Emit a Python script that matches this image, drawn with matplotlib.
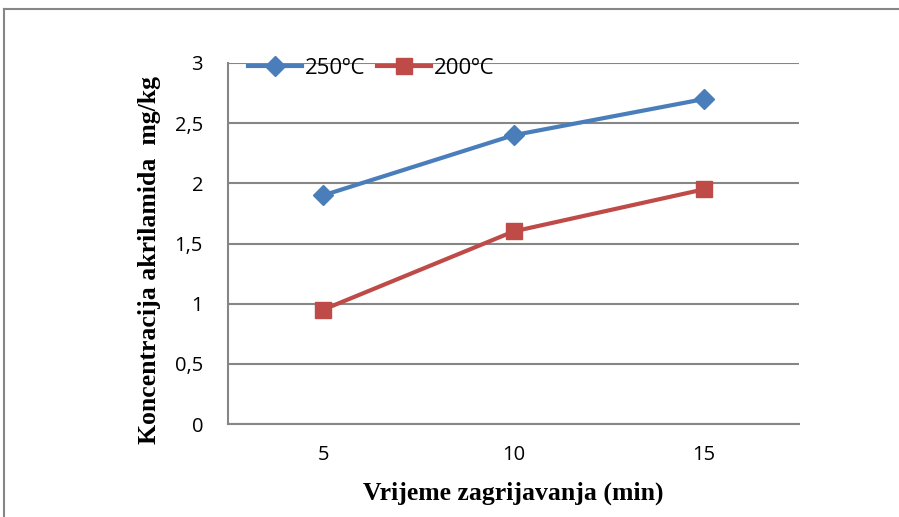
import matplotlib.pyplot as plt
from matplotlib.lines import Line2D

minutes = [5, 10, 15]
temp_250 = [1.9, 2.4, 2.7]
temp_200 = [0.95, 1.6, 1.95]
y_ticks = [0, 0.5, 1, 1.5, 2, 2.5, 3]
y_labels = ["0", "0,5", "1", "1,5", "2", "2,5", "3"]

blue = "#4A7EBB"
red = "#BE4B48"
grey = "#868686"

fig = plt.figure(figsize=(8.99, 5.17), dpi=100)
ax = fig.add_axes([228 / 899, 1 - 424 / 517, 571 / 899, 361 / 517])

ax.plot(minutes, temp_250, color=blue, lw=3, marker="D", ms=10, label="250ºC")
ax.plot(minutes, temp_200, color=red, lw=3, marker="s", ms=12, label="200ºC")

ax.set_xlim(2.5, 17.5)
ax.set_ylim(0, 3)
ax.set_xticks(minutes)
ax.set_xticklabels([str(m) for m in minutes])
ax.set_yticks(y_ticks)
ax.set_yticklabels(y_labels)
ax.tick_params(length=0, labelsize=14.5)
ax.tick_params(axis="y", pad=18)
ax.tick_params(axis="x", pad=15)
for lab in ax.get_xticklabels() + ax.get_yticklabels():
    lab.set_family("Open Sans")

ax.grid(axis="y", color=grey, lw=1.5)
ax.set_axisbelow(True)
for side in ["top", "right"]:
    ax.spines[side].set_visible(False)
for side in ["left", "bottom"]:
    ax.spines[side].set_color(grey)
    ax.spines[side].set_linewidth(1.5)

ax.set_xlabel("Vrijeme zagrijavanja (min)", family="Liberation Serif",
              fontweight="bold", fontsize=18.5, labelpad=12)
ax.set_ylabel("Koncentracija akrilamida  mg/kg", family="Liberation Serif",
              fontweight="bold", fontsize=18.5)
ax.yaxis.set_label_coords(-0.117, 0.454)

leg = ax.legend(loc="center left", bbox_to_anchor=(0.035, 0.986), ncol=2,
                frameon=False, handlelength=2.45, borderpad=0,
                borderaxespad=0, handletextpad=0.12, columnspacing=0.5,
                prop={"family": "Open Sans", "size": 16})

# outer chart frame (only top and left edges visible)
fig.add_artist(Line2D([4 / 899, 1], [1 - 9 / 517, 1 - 9 / 517], color=grey, lw=1.5))
fig.add_artist(Line2D([4 / 899, 4 / 899], [0, 1 - 9 / 517], color=grey, lw=1.5))

fig.savefig("out.png", dpi=100)
